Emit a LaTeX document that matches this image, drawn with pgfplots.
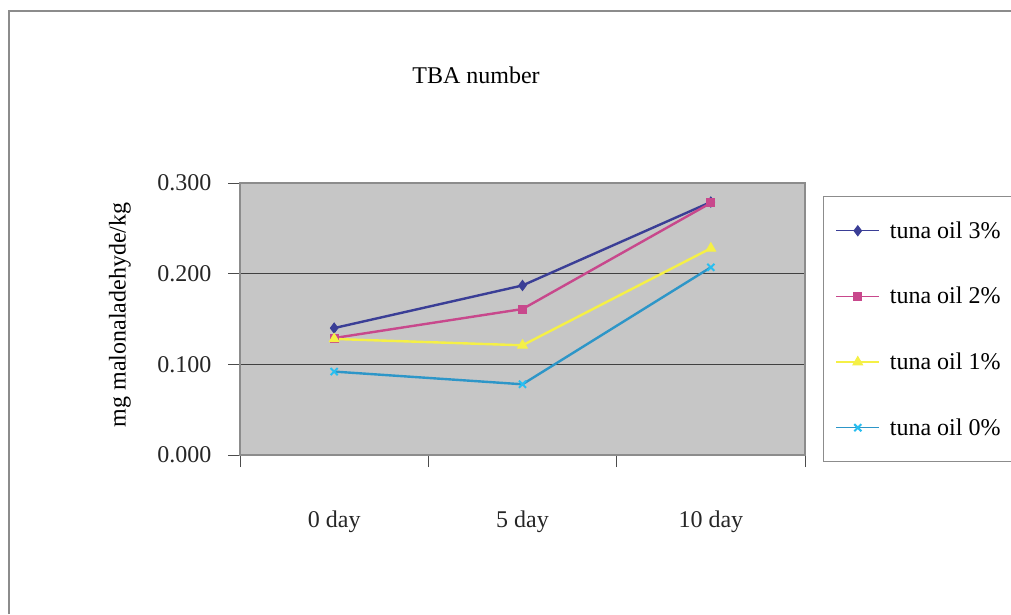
\documentclass[border=0pt]{standalone}
\usepackage{pgfplots}
\pgfplotsset{compat=1.18}
\usepackage{fontspec}
\setmainfont{Liberation Serif}
\definecolor{plotgray}{RGB}{198,198,198}
\definecolor{framegray}{RGB}{140,140,140}
\definecolor{navyline}{RGB}{58,62,150}
\definecolor{pinkline}{RGB}{200,72,140}
\definecolor{yellowline}{RGB}{245,240,70}
\definecolor{cyanline}{RGB}{45,150,200}
\definecolor{cyanmark}{RGB}{40,190,240}
\newcommand{\chartfont}{\fontsize{24}{28}\selectfont}

\pgfplotstableread{
x  p3    p2    p1    p0
1  0.140 0.129 0.128 0.092
2  0.187 0.161 0.121 0.078
3  0.279 0.278 0.228 0.207
}\tbadata

\begin{document}
\begin{tikzpicture}[x=1pt,y=1pt]
\path[use as bounding box] (0,0) rectangle (1011,614);
\draw[framegray, line width=1.3pt] (9,0) -- (9,603) -- (1011,603);
\node[font=\chartfont] at (476,539) {TBA number};
\node[font=\chartfont, rotate=90] at (120,299) {mg malonaladehyde/kg};
\begin{axis}[
  at={(240pt,159pt)}, anchor=south west,
  width=565pt, height=272pt, scale only axis,
  xmin=0.5, xmax=3.5, ymin=0, ymax=0.3,
  xtick={0.5,1.5,2.5,3.5},
  xticklabels={0 day,5 day,10 day},
  x tick label as interval,
  xtick pos=bottom, ytick pos=left,
  ytick={0,0.1,0.2,0.3},
  yticklabel style={/pgf/number format/fixed, /pgf/number format/zerofill,
    /pgf/number format/precision=3, xshift=-13pt},
  /pgf/number format/assume math mode=true,
  tick label style={font=\chartfont, black!85},
  xticklabel style={yshift=-40pt},
  tick align=outside,
  major tick length=12pt,
  tick style={black!70, line width=1pt},
  ymajorgrids,
  grid style={black!75, line width=1pt},
  axis line style={framegray, line width=1.2pt},
  axis background/.style={fill=plotgray},
  legend style={at={(1.0319,0.952)}, anchor=north west,
    draw=framegray, line width=1.2pt, fill=white, font=\chartfont,
    inner xsep=12pt, inner ysep=25pt, row sep=47.5pt,
    nodes={inner sep=0pt},
    /tikz/every odd column/.append style={column sep=10pt}},
  legend cell align=left,
  legend image code/.code={
    \draw[line width=1.3pt, mark repeat=2, mark phase=2] plot coordinates {(0pt,0pt)(21.5pt,0pt)(43pt,0pt)};},
]
\addplot[navyline, line width=2.4pt, mark=diamond*, mark size=5pt, mark options={line width=1pt}] table[x=x, y=p3] {\tbadata};
\addlegendentry{tuna oil 3\%}
\addplot[pinkline, line width=2.4pt, mark=square*, mark size=4pt, mark options={line width=1pt}] table[x=x, y=p2] {\tbadata};
\addlegendentry{tuna oil 2\%}
\addplot[yellowline, line width=2.4pt, mark=triangle*, mark size=5.5pt, mark options={line width=1pt}] table[x=x, y=p1] {\tbadata};
\addlegendentry{tuna oil 1\%}
\addplot[cyanline, line width=2.4pt, mark=x, mark size=5pt, mark options={cyanmark, line width=2pt}] table[x=x, y=p0] {\tbadata};
\addlegendentry{tuna oil 0\%}
\end{axis}
\end{tikzpicture}
\end{document}
